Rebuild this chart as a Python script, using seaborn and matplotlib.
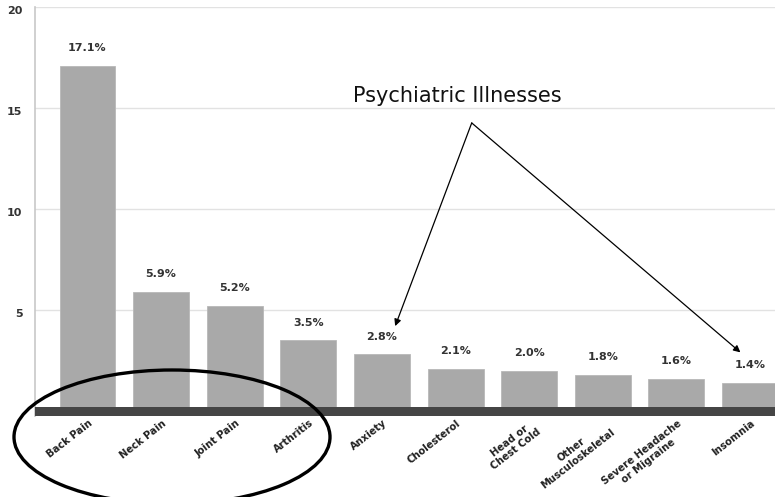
import matplotlib
matplotlib.use("Agg")
import matplotlib.pyplot as plt
import matplotlib.transforms as mtransforms
from matplotlib.patches import Ellipse
import seaborn as sns
import pandas as pd

conditions = ["Back Pain", "Neck Pain", "Joint Pain", "Arthritis", "Anxiety",
              "Cholesterol", "Head or\nChest Cold", "Other\nMusculoskeletal",
              "Severe Headache\nor Migraine", "Insomnia"]
shares = [17.1, 5.9, 5.2, 3.5, 2.8, 2.1, 2.0, 1.8, 1.6, 1.4]
y_ticks = [5, 10, 15, 20]

df = pd.DataFrame({"condition": conditions, "share": shares})

sns.set_theme(style="white")
plt.rcParams["font.family"] = ["DejaVu Sans"]

fig = plt.figure(figsize=(7.75, 4.97), dpi=100)
ax = fig.add_axes([35 / 775, (497 - 416) / 497, 740 / 775, (416 - 7) / 497])

sns.barplot(data=df, x="condition", y="share", color="#a9a9a9", width=0.76,
            saturation=1, edgecolor="#b8b8b8", linewidth=0.6, ax=ax, zorder=2)

ax.set_xlim(-0.713, 9.34)
ax.set_ylim(-0.25, 20)
ax.set_xlabel("")
ax.set_ylabel("")

# horizontal grid and the heavy base band
for t in y_ticks:
    ax.axhline(t, color="#e2e2e2", lw=1.0, zorder=1)
ax.axhspan(-0.25, 0.2, color="#454545", zorder=3, lw=0)

ax.set_yticks(y_ticks)
ax.set_yticklabels([str(t) for t in y_ticks], fontsize=8, fontweight="bold",
                   color="#333333")
ax.tick_params(axis="y", length=0, pad=9)
ydown = mtransforms.ScaledTranslation(0, -3 / 100, fig.dpi_scale_trans)
for lbl in ax.get_yticklabels():
    lbl.set_transform(lbl.get_transform() + ydown)

ax.tick_params(axis="x", length=0, pad=1.5)
ax.set_xticks(range(len(conditions)))
ax.set_xticklabels(conditions, rotation=38, ha="right", va="top",
                   rotation_mode="anchor", fontsize=7.2, fontweight="bold",
                   color="#222222", multialignment="center", linespacing=1.12)
xshift = mtransforms.ScaledTranslation(1 / 100, 0, fig.dpi_scale_trans)
for lbl in ax.get_xticklabels():
    lbl.set_transform(lbl.get_transform() + xshift)

for side in ["top", "right", "bottom"]:
    ax.spines[side].set_visible(False)
ax.spines["left"].set_color("#c8c8c8")
ax.spines["left"].set_linewidth(1.2)

# value labels above each bar
for i, v in enumerate(shares):
    ax.annotate(f"{v:.1f}%", xy=(i, v), xytext=(0, 9), textcoords="offset points",
                ha="center", va="bottom", fontsize=8, fontweight="bold",
                color="#333333", zorder=4)

# callout for the psychiatric conditions
ax.text(5.03, 15.6, "Psychiatric Illnesses", ha="center", va="center",
        fontsize=15, color="#111111")
apex = (5.22, 14.26)
for tip in [(4.18, 4.2), (8.87, 2.9)]:
    ax.annotate("", xy=tip, xytext=apex,
                arrowprops=dict(arrowstyle="-|>", color="black", lw=0.9,
                                mutation_scale=10, shrinkA=0, shrinkB=0),
                zorder=5)

# ring around the musculoskeletal group
ring = Ellipse((172 / 775, 1 - 437 / 497), 316 / 775, 134 / 497,
               transform=fig.transFigure, fill=False, edgecolor="black",
               lw=2.4, clip_on=False)
fig.patches.append(ring)

fig.savefig("out.png", dpi=100)
